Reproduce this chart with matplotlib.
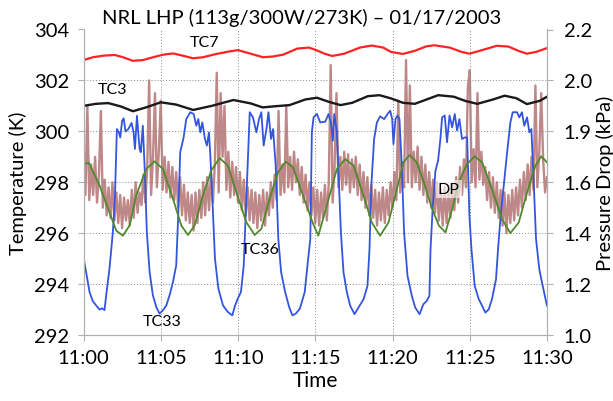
import numpy as np
import matplotlib.pyplot as plt

# NRL LHP run, 01/17/2003 - temperatures (left axis) and pressure drop (right axis)
# time is in minutes after 11:00

tick_minutes = [0, 5, 10, 15, 20, 25, 30]
tick_labels = ['11:00', '11:05', '11:10', '11:15', '11:20', '11:25', '11:30']
temp_ticks = [292, 294, 296, 298, 300, 302, 304]
dp_ticks = [1.0, 1.2, 1.4, 1.6, 1.8, 2.0, 2.2]
dp_tick_labels = ['1.0', '1.2', '1.4', '1.6', '1.9', '2.0', '2.2']

tc7_t = [0, 0.61, 1.26, 2.02, 2.56, 3.2, 3.85, 4.5, 5.15, 5.8, 6.44, 7.09, 7.74, 8.6, 9.46, 10.0,
         10.76, 11.62, 12.27, 12.91, 13.84, 14.6, 15.1, 15.6, 16.1, 16.88, 17.89, 18.65, 19.4, 19.9,
         20.67, 21.43, 22.2, 22.7, 23.7, 24.47, 24.98, 25.74, 26.75, 27.5, 28.2, 28.7, 29.3, 30]
tc7 = [302.8, 302.91, 302.97, 303.0, 302.91, 302.77, 302.8, 302.91, 303.01, 303.06, 302.97, 302.87,
       302.91, 303.04, 303.14, 303.19, 303.06, 302.91, 302.94, 303.01, 303.25, 303.29, 303.18, 303.05,
       302.96, 303.05, 303.29, 303.37, 303.29, 303.12, 303.04, 303.16, 303.34, 303.38, 303.29, 303.12,
       303.05, 303.18, 303.36, 303.33, 303.15, 303.05, 303.12, 303.27]

tc3_t = [0, 0.8, 1.6, 2.4, 3.2, 4.1, 5.0, 6.0, 7.1, 8.3, 9.7, 10.8, 11.6, 12.3, 13.34, 14.35, 15.11,
         15.87, 16.63, 17.39, 18.4, 19.16, 19.92, 20.68, 21.44, 22.2, 22.96, 23.97, 24.73, 25.49, 26.5,
         27.26, 28.02, 28.7, 29.54, 30]
tc3 = [301.0, 301.08, 301.11, 300.98, 300.79, 300.95, 301.14, 301.05, 300.84, 301.0, 301.23, 301.1,
       300.94, 300.98, 301.03, 301.25, 301.32, 301.16, 301.03, 301.12, 301.38, 301.42, 301.29, 301.12,
       301.08, 301.25, 301.42, 301.36, 301.19, 301.08, 301.25, 301.4, 301.3, 301.07, 301.2, 301.36]

tc33_t = [0, 0.17, 0.39, 0.6, 0.82, 1.04, 1.2, 1.36, 1.47, 1.68, 1.9, 2.03, 2.16, 2.29, 2.38, 2.5,
          2.6, 2.72, 2.9, 3.11, 3.24, 3.33, 3.46, 3.63, 3.71, 3.84, 3.97, 4.1, 4.28, 4.49, 4.71, 4.92,
          5.14, 5.36, 5.57, 5.79, 6.0, 6.13, 6.26, 6.48, 6.65, 6.91, 7.13, 7.3, 7.43, 7.56, 7.69, 7.86,
          7.99, 8.12, 8.21, 8.34, 8.51, 8.73, 9.03, 9.35, 9.63, 9.81, 9.98, 10.19, 10.37, 10.54, 10.76,
          10.97, 11.19, 11.36, 11.51, 11.66, 11.84, 11.97, 12.14, 12.27, 12.44, 12.61, 12.79, 13.05,
          13.31, 13.52, 13.74, 14.0, 14.32, 14.54, 14.68, 14.78, 14.89, 15.11, 15.32, 15.65, 15.86,
          16.01, 16.14, 16.23, 16.4, 16.53, 16.66, 16.83, 17.05, 17.26, 17.54, 17.8, 18.13, 18.38,
          18.51, 18.64, 18.81, 18.99, 19.2, 19.46, 19.68, 19.85, 19.98, 20.06, 20.19, 20.32, 20.45,
          20.6, 20.75, 20.97, 21.25, 21.47, 21.75, 22.0, 22.22, 22.39, 22.46, 22.61, 22.78, 22.95,
          23.1, 23.21, 23.38, 23.53, 23.69, 23.86, 24.03, 24.18, 24.33, 24.5, 24.68, 24.83, 24.98,
          25.11, 25.32, 25.58, 25.8, 26.01, 26.23, 26.44, 26.7, 26.83, 27.0, 27.22, 27.44, 27.63,
          27.78, 28.06, 28.21, 28.38, 28.53, 28.71, 28.86, 28.99, 29.14, 29.29, 29.5, 29.72, 30.0]
tc33 = [295.02, 294.47, 293.69, 293.33, 293.16, 293.0, 293.05, 292.98, 293.56, 294.6, 296.04, 297.35,
        300.09, 299.96, 299.76, 300.42, 300.51, 299.99, 300.09, 300.33, 299.96, 299.31, 300.61, 299.31,
        299.18, 300.22, 298.39, 296.04, 294.47, 293.56, 293.1, 292.84, 292.97, 293.16, 293.56, 294.08,
        294.73, 296.69, 299.18, 299.76, 300.48, 300.75, 300.68, 300.22, 300.48, 299.96, 300.35, 299.7,
        299.44, 299.96, 299.05, 297.35, 294.99, 293.82, 293.16, 292.9, 292.77, 293.16, 293.42, 293.69,
        294.73, 297.35, 300.75, 300.55, 299.96, 300.48, 300.75, 299.44, 300.09, 300.75, 299.7, 300.09,
        298.65, 295.78, 294.47, 293.69, 293.1, 292.77, 292.84, 293.03, 293.69, 294.99, 295.77, 299.96,
        300.55, 300.68, 300.35, 300.38, 300.68, 300.35, 299.63, 300.68, 299.96, 297.99, 296.03, 294.46,
        293.67, 293.15, 292.82, 293.08, 293.41, 293.93, 295.37, 297.99, 299.7, 300.35, 300.59, 300.48,
        300.68, 300.81, 300.48, 299.5, 300.48, 300.62, 300.48, 298.65, 296.03, 294.33, 293.54, 293.08,
        292.82, 293.21, 293.34, 293.54, 295.37, 297.08, 298.45, 298.85, 299.7, 300.55, 300.62, 299.57,
        300.62, 300.16, 300.68, 300.03, 300.48, 299.7, 299.76, 299.76, 296.68, 295.37, 293.93, 293.41,
        293.15, 292.88, 293.01, 293.41, 294.19, 295.37, 296.68, 297.99, 299.3, 300.35, 300.75, 300.75,
        300.55, 300.75, 300.22, 300.55, 299.96, 300.09, 297.99, 295.77, 294.59, 293.93, 293.15]

tc36_t = [0, 0.35, 1.04, 1.68, 2.12, 2.55, 2.98, 3.41, 4.06, 4.6, 5.14, 5.79, 6.33, 6.76, 7.19, 7.73,
          8.27, 8.81, 9.35, 9.89, 10.54, 11.08, 11.51, 12.05, 12.59, 13.09, 13.56, 14.21, 14.86, 15.2,
          15.86, 16.4, 16.94, 17.48, 18.13, 18.66, 19.2, 19.74, 20.28, 20.71, 21.1, 21.57, 22.11, 22.6,
          23.0, 23.43, 23.86, 24.29, 24.83, 25.32, 25.8, 26.44, 27.09, 27.63, 28.17, 28.71, 29.25,
          29.63, 30.0]
tc36 = [298.72, 298.76, 297.87, 296.82, 296.1, 295.9, 296.3, 297.48, 298.52, 298.82, 298.52, 297.35,
        296.3, 295.93, 296.3, 297.48, 298.46, 298.95, 298.65, 297.61, 296.43, 295.93, 296.17, 297.35,
        298.39, 298.81, 298.59, 297.48, 296.37, 295.9, 297.34, 298.52, 298.91, 298.65, 297.47, 296.42,
        295.9, 296.42, 297.73, 298.78, 299.07, 298.78, 297.86, 296.9, 296.3, 296.03, 296.95, 297.99,
        298.72, 299.02, 298.78, 297.73, 296.55, 296.0, 296.42, 297.6, 298.65, 299.02, 298.78]

# pressure drop (kPa), one reading every 7.5 s, one row per minute
dp = [
    1.64, 1.55, 1.90, 1.53, 1.67, 1.55, 1.70, 1.52,
    1.63, 1.88, 1.50, 1.61, 1.47, 1.58, 1.46, 1.60,
    1.45, 1.56, 1.44, 1.55, 1.42, 1.54, 1.45, 1.53,
    1.43, 1.57, 1.46, 1.60, 1.48, 1.56, 1.51, 1.63,
    1.52, 1.66, 2.00, 1.55, 1.70, 1.95, 1.58, 1.72,
    1.92, 1.57, 1.70, 1.56, 1.68, 1.54, 1.66, 1.53,
    1.64, 1.50, 1.62, 1.47, 1.59, 1.45, 1.56, 1.44,
    1.55, 1.41, 1.56, 1.44, 1.57, 1.46, 1.60, 1.47,
    1.62, 1.49, 1.64, 1.52, 1.67, 2.03, 1.56, 1.95,
    1.70, 1.90, 1.57, 1.72, 1.54, 1.68, 1.55, 1.66,
    1.52, 1.64, 1.49, 1.61, 1.47, 1.58, 1.45, 1.57,
    1.44, 1.56, 1.42, 1.55, 1.45, 1.57, 1.43, 1.56,
    1.47, 1.60, 1.50, 1.63, 1.53, 1.88, 1.55, 1.67,
    1.56, 1.90, 1.58, 1.70, 1.57, 1.72, 1.60, 1.69,
    1.55, 1.66, 1.52, 1.63, 1.49, 1.60, 1.47, 1.58,
    1.44, 1.57, 1.43, 1.56, 1.46, 1.59, 1.45, 1.60,
    2.06, 1.52, 1.66, 1.95, 1.58, 1.70, 1.57, 1.72,
    1.59, 1.71, 1.56, 1.69, 1.58, 1.70, 1.55, 1.67,
    1.53, 1.64, 1.50, 1.62, 1.47, 1.59, 1.46, 1.57,
    1.43, 1.56, 1.45, 1.58, 1.44, 1.57, 1.47, 1.60,
    1.50, 1.64, 1.53, 1.92, 1.56, 1.68, 1.58, 2.08,
    1.60, 1.98, 1.58, 1.72, 1.60, 1.74, 1.57, 1.70,
    1.55, 1.67, 1.52, 1.64, 1.50, 1.61, 1.48, 1.60,
    1.45, 1.57, 1.43, 1.58, 1.44, 1.56, 1.46, 1.59,
    1.49, 1.62, 1.52, 1.66, 1.55, 1.69, 1.58, 1.97,
    2.04, 1.60, 1.73, 1.58, 1.95, 1.61, 1.72, 1.59,
    1.66, 1.53, 1.64, 1.50, 1.62, 1.48, 1.60, 1.46,
    1.57, 1.43, 1.56, 1.40, 1.55, 1.44, 1.57, 1.45,
    1.58, 1.47, 1.61, 1.50, 1.64, 1.53, 1.67, 1.55,
    1.70, 1.57, 1.98, 1.58, 1.72, 1.95, 1.69, 1.56,
    1.62,
]
dp_t = np.arange(len(dp)) * 7.5 / 60

plt.rcParams['font.family'] = ['Lato', 'DejaVu Sans']

fig = plt.figure(figsize=(6.13, 4.02), dpi=100)
ax = fig.add_axes([83.5 / 613, 1 - 336 / 402, 463.5 / 613, 305.5 / 402])
ax2 = ax.twinx()

# pressure drop underneath the temperature traces
ax2.plot(dp_t, dp, color='#983f3f', lw=1.7, alpha=0.62)
ax2.set_ylim(1.0, 2.2)
ax2.set_yticks(dp_ticks)
ax2.set_yticklabels(dp_tick_labels)

ax.set_zorder(ax2.get_zorder() + 1)
ax.patch.set_visible(False)

ax.plot(tc7_t, tc7, color='#ff2222', lw=1.6)
ax.plot(tc3_t, tc3, color='#1a1a1a', lw=1.7)
ax.plot(tc33_t, tc33, color='#3355dd', lw=1.3)
ax.plot(tc36_t, tc36, color='#4e8a2b', lw=1.3)

ax.set_xlim(0, 30)
ax.set_ylim(292, 304)
ax.set_xticks(tick_minutes)
ax.set_xticklabels(tick_labels)
ax.set_yticks(temp_ticks)
ax.grid(True, color='#888888', linestyle=(0, (1, 2)), lw=0.7)

for a in (ax, ax2):
    for side in ('left', 'right', 'bottom'):
        a.spines[side].set_color('#b0b0b0')
    a.spines['top'].set_visible(False)
    a.tick_params(colors='#b0b0b0', labelcolor='black', labelsize=14.5, length=4)
ax.tick_params(axis='y', pad=6)
ax.tick_params(axis='x', pad=6)
ax2.tick_params(axis='y', pad=8)

ax.set_title('NRL LHP (113g/300W/273K) – 01/17/2003', fontsize=14.5, pad=5, x=0.47)
ax.set_xlabel('Time', fontsize=15, labelpad=3)
ax.set_ylabel('Temperature (K)', fontsize=14.5, labelpad=5)
ax2.set_ylabel('Pressure Drop (kPa)', fontsize=14.5, labelpad=3)

ax.text(7.8, 303.51, 'TC7', fontsize=11.5, ha='center', va='center')
ax.text(1.9, 301.66, 'TC3', fontsize=11.5, ha='center', va='center')
ax.text(11.42, 295.38, 'TC36', fontsize=11.5, ha='center', va='center')
ax.text(5.08, 292.55, 'TC33', fontsize=11.5, ha='center', va='center')
ax.text(23.65, 297.73, 'DP', fontsize=11.5, ha='center', va='center',
        bbox=dict(facecolor='white', alpha=0.6, edgecolor='none', pad=1.5))

fig.savefig('out.png', dpi=100)
